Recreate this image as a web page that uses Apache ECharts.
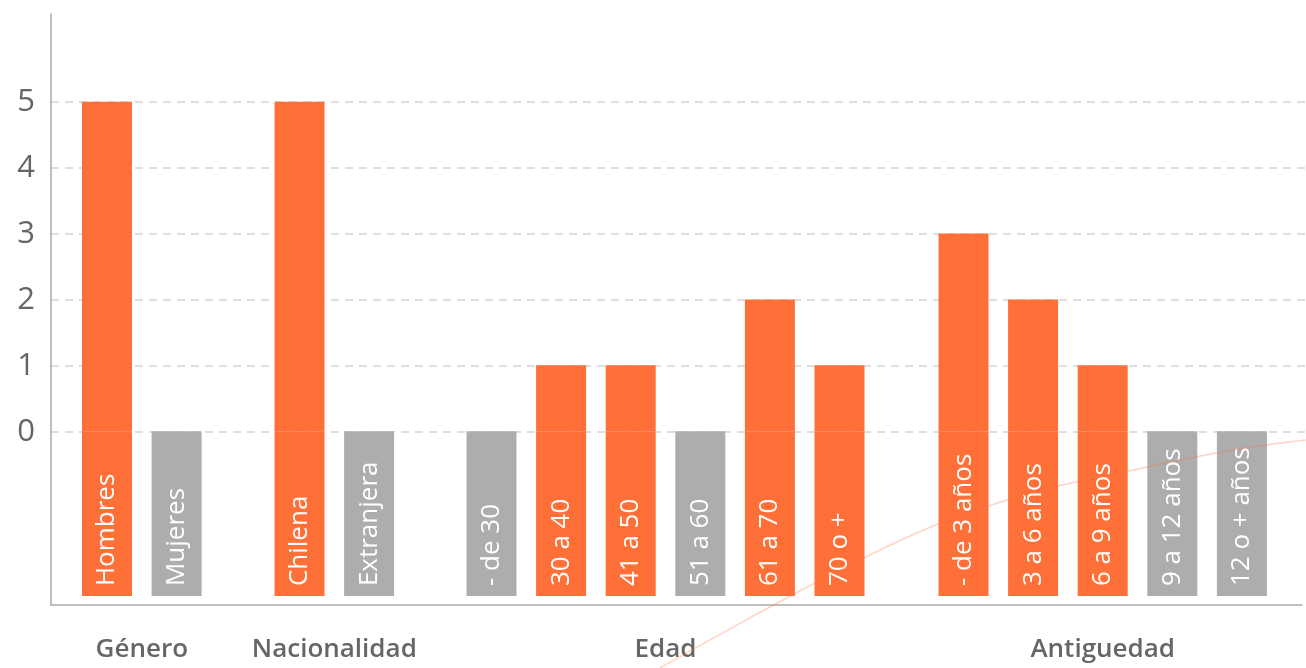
<!DOCTYPE html>
<html><head><meta charset="utf-8">
<script src="https://cdn.jsdelivr.net/npm/echarts@6/dist/echarts.min.js"></script>
<style>html,body{margin:0;padding:0;background:#fff}#c{width:1306px;height:668px}</style>
</head><body><div id="c"></div>
<script>
// ---- data ----
const groupNames = ['Género', 'Nacionalidad', 'Edad', 'Antiguedad'];
const generoCats = ['Hombres', 'Mujeres'];
const generoVals = [5, 0];
const nacionalidadCats = ['Chilena', 'Extranjera'];
const nacionalidadVals = [5, 0];
const edadCats = ['- de 30', '30 a 40', '41 a 50', '51 a 60', '61 a 70', '70 o +'];
const edadVals = [0, 1, 1, 0, 2, 1];
const antiguedadCats = ['- de 3 años', '3 a 6 años', '6 a 9 años', '9 a 12 años', '12 o + años'];
const antiguedadVals = [3, 2, 1, 0, 0];
const yTicks = [0, 1, 2, 3, 4, 5];

const groups = [
  { name: groupNames[0], cats: generoCats, vals: generoVals },
  { name: groupNames[1], cats: nacionalidadCats, vals: nacionalidadVals },
  { name: groupNames[2], cats: edadCats, vals: edadVals },
  { name: groupNames[3], cats: antiguedadCats, vals: antiguedadVals }
];

// ---- style ----
const ORANGE = '#ff7038';
const GREY = '#adadad';
const FONT = 'Open Sans';
const YMIN = -2.62, YMAX = 6.33, BASE = -2.5;
const BAND = 69.6;
const groupLefts = [72.2, 264.7, 456.7, 928.7];

const grids = [
  { left: 51, right: 4, top: 14, bottom: 63 },      // frame
  { left: 51, right: 0, top: 102, bottom: 236 }     // ticks + dashed lines
];
const xAxes = [
  { gridIndex: 0, type: 'value', min: 0, max: 1, position: 'bottom',
    axisLine: { show: true, onZero: false, lineStyle: { color: '#aaaaaa', width: 1.5 } },
    axisTick: { show: false }, axisLabel: { show: false }, splitLine: { show: false } },
  { gridIndex: 1, type: 'value', min: 0, max: 1, show: false }
];
const yAxes = [
  { gridIndex: 0, type: 'value', min: YMIN, max: YMAX,
    axisLine: { show: true, onZero: false, lineStyle: { color: '#aaaaaa', width: 1.5 } },
    axisTick: { show: false }, axisLabel: { show: false }, splitLine: { show: false } },
  { gridIndex: 1, type: 'value', min: yTicks[0], max: yTicks[yTicks.length - 1], interval: 1,
    axisLine: { show: false }, axisTick: { show: false },
    axisLabel: { color: '#666666', fontSize: 31, fontFamily: FONT, margin: 16 },
    splitLine: { show: true, lineStyle: { color: '#d4d4d4', type: [8, 6], width: 1.5 } } }
];
const series = [];
groups.forEach((g, i) => {
  const gi = i + 2;
  grids.push({ left: groupLefts[i], width: BAND * g.cats.length, top: 14, bottom: 63 });
  xAxes.push({ gridIndex: gi, type: 'category', data: g.cats,
    axisLine: { show: false }, axisTick: { show: false }, axisLabel: { show: false },
    name: g.name, nameLocation: 'middle', nameGap: 33,
    nameTextStyle: { color: '#666666', fontSize: 26, fontWeight: 600, fontFamily: FONT } });
  yAxes.push({ gridIndex: gi, type: 'value', min: YMIN, max: YMAX, show: false, splitLine: { show: false } });
  const col = v => (v > 0 ? ORANGE : GREY);
  series.push({
    type: 'bar', xAxisIndex: gi, yAxisIndex: gi, stack: 's' + i, barWidth: 50, silent: true,
    data: g.vals.map(v => ({ value: BASE, itemStyle: { color: col(v) } })),
    label: { show: true, position: 'insideBottom', rotate: 90, align: 'left', verticalAlign: 'middle',
      distance: 10, color: '#ffffff', fontSize: 26, fontFamily: FONT,
      formatter: p => p.name }
  });
  series.push({
    type: 'bar', xAxisIndex: gi, yAxisIndex: gi, stack: 's' + i, barWidth: 50, silent: true,
    data: g.vals.map(v => ({ value: v, itemStyle: { color: col(v) } }))
  });
});

const chart = echarts.init(document.getElementById('c'), null, { renderer: 'canvas' });
chart.setOption({
  animation: false,
  backgroundColor: '#ffffff',
  grid: grids, xAxis: xAxes, yAxis: yAxes, series: series,
  graphic: [{
    type: 'polyline', z: 100, silent: true,
    shape: { points: [[660, 668], [880, 550], [1007, 500], [1133, 470], [1233, 450], [1306, 440]], smooth: 0.4 },
    style: { stroke: 'rgba(255,112,56,0.3)', lineWidth: 1.5, fill: null }
  }]
});
</script></body></html>
